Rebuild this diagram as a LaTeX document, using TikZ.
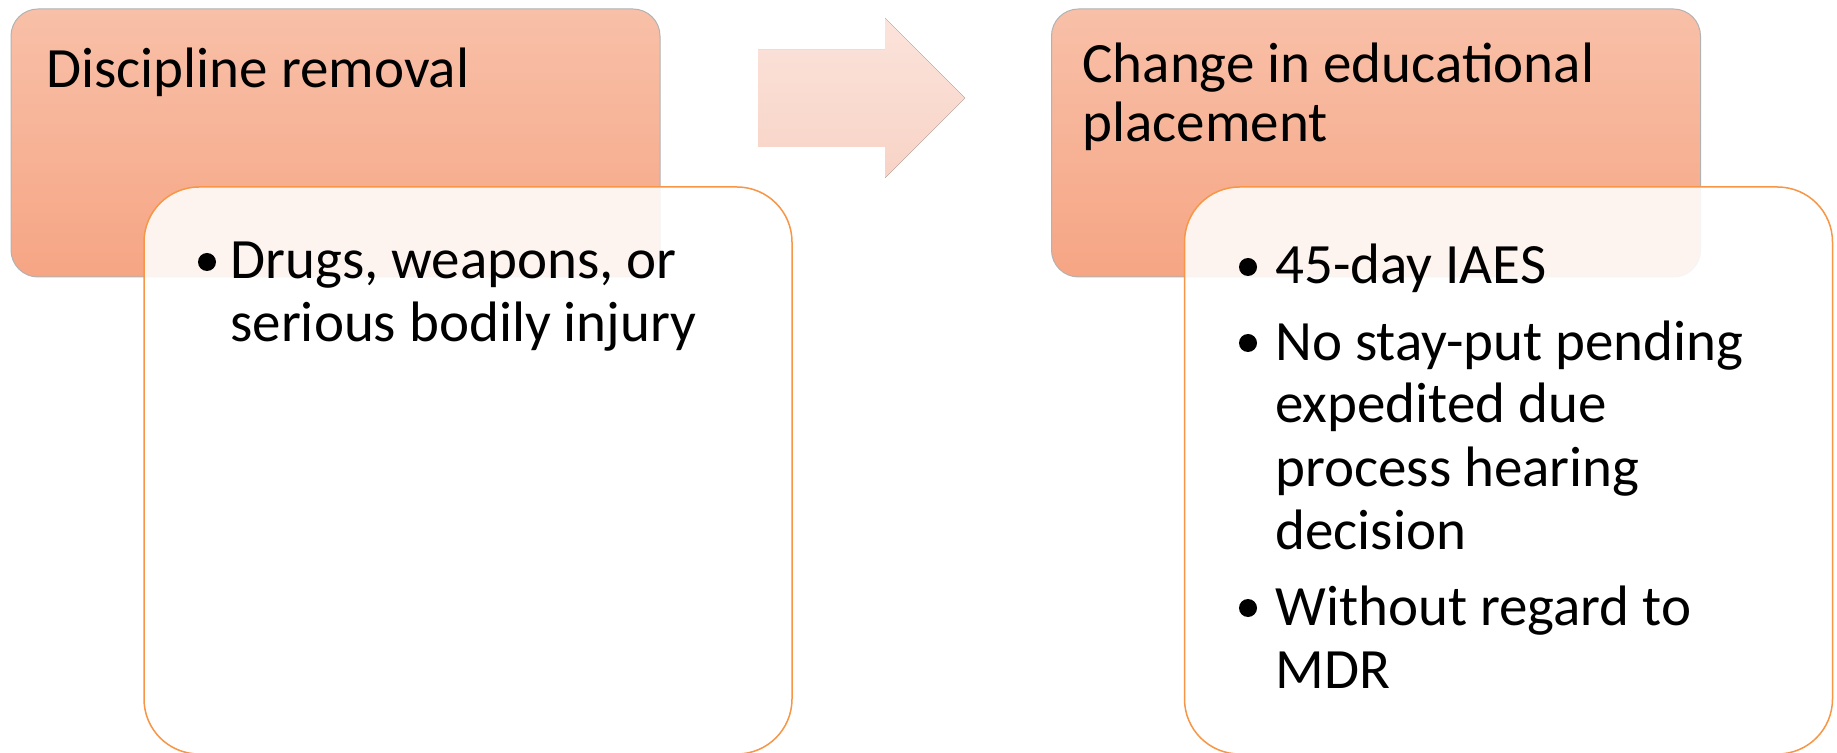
\documentclass[tikz,border=0pt]{standalone}
\usepackage{fontspec}
\setmainfont{Carlito}
\usetikzlibrary{positioning}
\definecolor{headtop}{HTML}{F8C0A8}
\definecolor{headbot}{HTML}{F6A584}
\definecolor{cardline}{HTML}{F79646}
\definecolor{arrowtop}{HTML}{FBE3DB}
\definecolor{arrowbot}{HTML}{F8D3C6}
\tikzset{headbox/.style = {draw=black!30, line width=0.5pt, rounded corners=13.5pt,
    top color=headtop, bottom color=headbot,
    minimum width=324.5pt, minimum height=134pt, inner sep=0pt}}
\tikzset{cardbox/.style = {draw=cardline, line width=0.75pt, rounded corners=27.5pt,
    fill=white, fill opacity=0.87,
    minimum width=324pt, minimum height=283.5pt, inner sep=0pt}}
\tikzset{headtext/.style = {anchor=base west, inner sep=0pt, align=left,
    font=\fontsize{28.5}{29.5}\selectfont}}
\tikzset{itemtext/.style = {anchor=base west, inner sep=0pt, align=left,
    font=\fontsize{28.5}{31.5}\selectfont}}
\tikzset{dot/.style = {circle, fill=black, minimum size=9pt, inner sep=0pt}}

\begin{document}
\begin{tikzpicture}[x=0.5pt, y=-0.5pt]
            \useasboundingbox (0,0) rectangle (1837,753);

            % Header boxes
            \node[headbox] (lefthead) at (335.5,143) {};
            \node[headbox] (righthead) at (1376,143) {};

            % Flow arrow
            \fill[top color=arrowtop, bottom color=arrowbot]
                (758,50) -- (885,50) -- (885,18) -- (965,98) -- (885,178)
                -- (885,147) -- (758,147) -- cycle;

            % Detail cards
            \node[cardbox] (leftcard) at (468,470.5) {};
            \node[cardbox] (rightcard) at (1508.5,470.5) {};

            % Titles (base = last line)
            \node[headtext] (lefttitle) at (46,88) {Discipline removal};
            \node[headtext] (righttitle) at (1082,142) {Change in educational\\placement};

            % Left items
            \node[dot] (ldot1) at (207,262) {};
            \node[itemtext] (litem1) at (230,342) {Drugs, weapons, or\\serious bodily injury};

            % Right items
            \node[dot] (rdot1) at (1248,267) {};
            \node[itemtext] (ritem1) at (1275,284) {45-day IAES};
            \node[dot] (rdot2) at (1248,343) {};
            \node[itemtext] (ritem2) at (1275,549) {No stay-put pending\\expedited due\\process hearing\\decision};
            \node[dot] (rdot3) at (1248,608) {};
            \node[itemtext] (ritem3) at (1275,688) {Without regard to\\MDR};
\end{tikzpicture}
\end{document}
